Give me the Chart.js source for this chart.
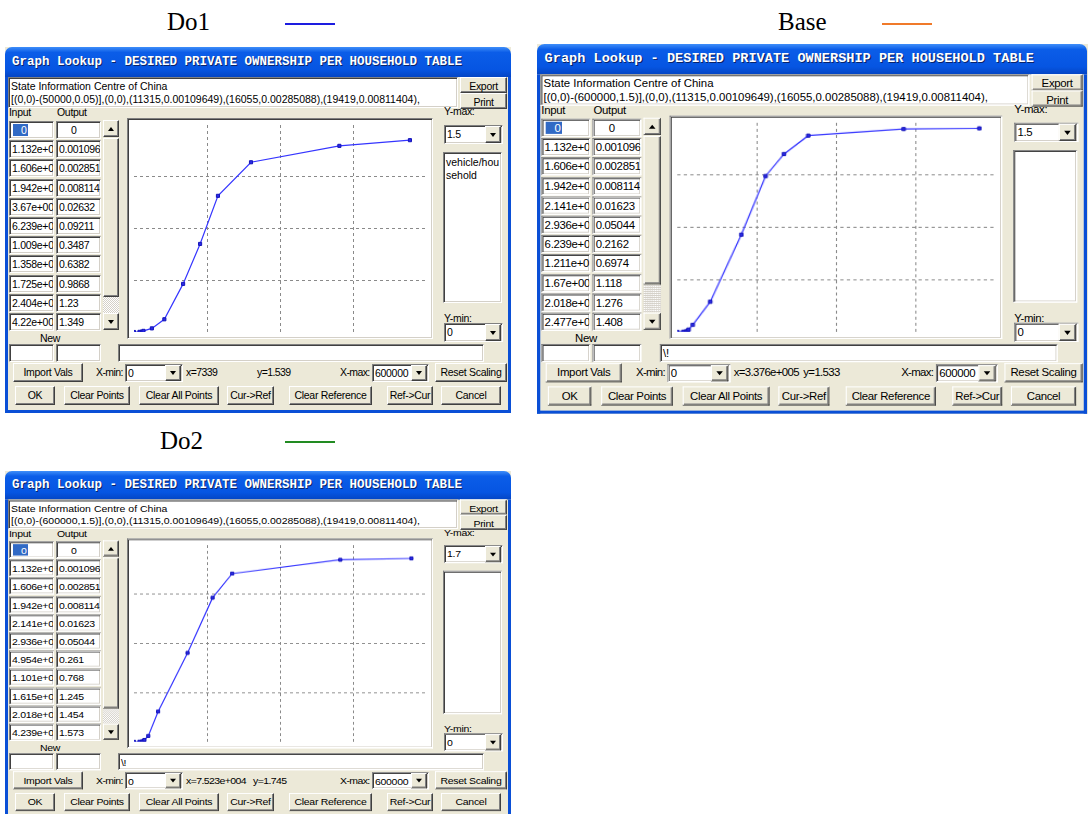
<!DOCTYPE html>
<html>
<head>
<meta charset="utf-8">
<script src="https://cdn.jsdelivr.net/npm/chart.js@4.4.0/dist/chart.umd.min.js"></script>
<style>
body{margin:0;width:1091px;height:814px;overflow:hidden;background:#fff;position:relative;font-family:"Liberation Sans",Arial,sans-serif;}
.lbl{position:absolute;font-family:"Liberation Serif","Times New Roman",serif;font-size:25px;line-height:25px;}
.key{position:absolute;height:2px;width:50px;}
.dlg{position:absolute;width:506px;height:366px;background:#ece9d8;transform-origin:0 0;font-size:10.5px;letter-spacing:-0.3px;color:#000;}
.e{position:absolute;box-sizing:border-box;white-space:nowrap;overflow:hidden;}
.ttl{background:linear-gradient(#3f8ef9,#0b5de8 18%,#0655e2 75%,#0445c4);color:#fff;font:bold 12.5px "Liberation Mono",monospace;letter-spacing:0;line-height:30px;padding-left:7px;text-shadow:1px 1px #0a246a;border-radius:7px 7px 0 0;}
.edge{background:#0a4fd6;}
.field{background:#fff;border:1px solid;border-color:#808080 #fff #fff #808080;box-shadow:inset 1px 1px #404040,inset -1px -1px #d4d0c8;padding:0 2px;line-height:16px;}
.btn{background:#ece9d8;border:1px solid;border-color:#fff #404040 #404040 #fff;box-shadow:inset -1px -1px #808080;text-align:center;line-height:16px;overflow:visible;}
.txt{line-height:13px;overflow:visible;}
.rd{letter-spacing:-0.6px;}
.chk{background:repeating-conic-gradient(#fff 0 25%,#d4d0c8 0 50%) 0 0/2px 2px;}
.tri{position:absolute;left:50%;top:50%;margin-left:-3.5px;margin-top:-2px;width:0;height:0;border-left:3.5px solid transparent;border-right:3.5px solid transparent;}
.dn{border-top:4px solid #000;}
.up{border-bottom:4px solid #000;margin-top:-2px;}
.sel{background:#316ac5;color:#fff;padding:0 1px;}
</style>
</head>
<body>

<div class="lbl" style="left:167px;top:9px;">Do1</div>
<div class="key" style="left:285px;top:23px;background:#1d1de0;"></div>
<div class="lbl" style="left:778px;top:9px;">Base</div>
<div class="key" style="left:882px;top:23px;background:#f07a2a;"></div>
<div class="lbl" style="left:160px;top:428px;">Do2</div>
<div class="key" style="left:285px;top:441px;background:#228b22;"></div>

<script>
var xMax = 600000;

var do1Input = [0, 11315, 16055, 19419, 36700, 62390, 100900, 135800, 172500, 240400, 422000, 567000];
var do1Output = [0, 0.00109649, 0.00285088, 0.00811404, 0.02632, 0.09211, 0.3487, 0.6382, 0.9868, 1.23, 1.349, 1.39];

var baseInput = [0, 11315, 16055, 19419, 21410, 29360, 62390, 121100, 167000, 201800, 247700, 428000, 571000];
var baseOutput = [0, 0.00109649, 0.00285088, 0.00811404, 0.01623, 0.05044, 0.2162, 0.6974, 1.118, 1.276, 1.408, 1.455, 1.46];

var do2Input = [0, 11315, 16055, 19419, 21410, 29360, 49540, 110100, 161500, 201800, 423900, 570000];
var do2Output = [0, 0.00109649, 0.00285088, 0.00811404, 0.01623, 0.05044, 0.261, 0.768, 1.245, 1.454, 1.573, 1.585];

var titleText = "Graph Lookup - DESIRED PRIVATE OWNERSHIP PER HOUSEHOLD TABLE";
var tail = ",(0,0),(11315,0.00109649),(16055,0.00285088),(19419,0.00811404),";

var panels = [
  { left: 5, top: 47, sx: 1, sy: 1, input: do1Input, output: do1Output, yMax: 1.5,
    range: "[(0,0)-(50000,0.05)]", units: "vehicle/household", note: "",
    xRead: "x=7339", yRead: "y=1.539", yReadX: 252, thumb: 159 },
  { left: 537, top: 44, sx: 1.087, sy: 1.01, input: baseInput, output: baseOutput, yMax: 1.5,
    range: "[(0,0)-(600000,1.5)]", units: "", note: "\\!",
    xRead: "x=3.376e+005", yRead: "y=1.533", yReadX: 245, thumb: 147 },
  { left: 5, top: 471, sx: 1, sy: 0.95, input: do2Input, output: do2Output, yMax: 1.7,
    range: "[(0,0)-(600000,1.5)]", units: "", note: "\\!",
    xRead: "x=7.523e+004", yRead: "y=1.745", yReadX: 248, thumb: 159 }
];

// ---- helpers ----
function el(parent, cls, x, y, w, h, text) {
  var d = document.createElement("div");
  d.className = "e " + cls;
  d.style.left = x + "px";
  d.style.top = y + "px";
  if (w != null) d.style.width = w + "px";
  if (h != null) d.style.height = h + "px";
  if (text != null) d.textContent = text;
  parent.appendChild(d);
  return d;
}

function arrow(parent, dir) {
  var t = document.createElement("div");
  t.className = "tri " + dir;
  parent.appendChild(t);
}

function combo(parent, x, y, w, h, text) {
  var c = el(parent, "field", x, y, w, h, text);
  c.style.overflow = "visible";
  var b = el(c, "btn", w - 19, 0, 16, h - 2);
  arrow(b, "dn");
  return c;
}

function fmtIn(v) {
  if (v === 0) return "0";
  var p = v.toExponential(3).split("e");
  var man = p[0].replace(/0+$/, "").replace(/\.$/, "");
  var ex = parseInt(p[1], 10);
  return man + "e" + (ex < 0 ? "-" : "+") + String(Math.abs(ex)).padStart(3, "0");
}

function fmtOut(v) {
  if (v === 0) return "0";
  return String(parseFloat(v.toPrecision(4)));
}

// ---- build one dialog ----
function buildPanel(p) {
  var d = document.createElement("div");
  d.className = "dlg";
  d.style.left = p.left + "px";
  d.style.top = p.top + "px";
  d.style.transform = "scale(" + p.sx + "," + p.sy + ")";
  document.body.appendChild(d);

  el(d, "ttl", 0, 0, 506, 30, titleText);
  el(d, "edge", 0, 30, 3, 336);
  el(d, "edge", 503, 30, 3, 336);
  el(d, "edge", 0, 363, 506, 3);

  var tb = el(d, "field txt", 3, 30, 450, 31);
  tb.style.lineHeight = "13px";
  tb.style.paddingTop = "2px";
  tb.style.overflow = "hidden";
  tb.style.letterSpacing = "0";
  tb.innerHTML = "State Information Centre of China<br>" + p.range + tail;

  el(d, "btn", 455, 30, 47, 16, "Export");
  el(d, "btn", 455, 46, 47, 16, "Print");

  el(d, "txt", 4, 59, 40, 13, "Input");
  el(d, "txt", 52, 59, 40, 13, "Output");

  for (var i = 0; i < 11 && i < p.input.length; i++) {
    var y = 74 + i * 19.2;
    var a = el(d, "field", 4, y, 45, 18);
    var b = el(d, "field", 51, y, 45, 18);
    if (i === 0) {
      a.innerHTML = '<span style="margin-left:1px;padding-left:8px" class="sel">0</span>';
      b.textContent = "0";
      b.style.paddingLeft = "14px";
    } else {
      a.textContent = fmtIn(p.input[i]);
      b.textContent = fmtOut(p.output[i]);
    }
  }

  // scrollbar
  var trackTop = 91 + p.thumb;
  el(d, "chk", 98, trackTop, 16, 266 - trackTop);
  arrow(el(d, "btn", 98, 73, 16, 17), "up");
  el(d, "btn", 98, 91, 16, p.thumb);
  arrow(el(d, "btn", 98, 266, 16, 17), "dn");

  var nw = el(d, "txt", 30, 285, 30, 13, "New");
  nw.style.textAlign = "center";
  el(d, "field", 4, 297, 45, 18);
  el(d, "field", 51, 297, 45, 18);

  // chart box
  var box = el(d, "field", 122, 71, 306, 221);
  box.style.padding = "0";
  var cv = document.createElement("canvas");
  cv.width = 302;
  cv.height = 217;
  cv.style.position = "absolute";
  cv.style.left = "1px";
  cv.style.top = "1px";
  box.appendChild(cv);

  el(d, "field", 113, 297, 366, 18, p.note);

  el(d, "txt", 439, 58, 50, 13, "Y-max:");
  combo(d, 439, 78, 59, 19, String(p.yMax));
  var u = el(d, "field", 438, 105, 59, 151);
  u.style.whiteSpace = "normal";
  u.style.wordBreak = "break-all";
  u.style.lineHeight = "13px";
  u.style.padding = "3px 1px 0 2px";
  u.style.letterSpacing = "0";
  u.textContent = p.units;
  el(d, "txt", 439, 265, 50, 13, "Y-min:");
  combo(d, 439, 276, 59, 19, "0");

  el(d, "btn", 8, 316, 70, 19, "Import Vals");
  el(d, "txt rd", 91, 319, 30, 13, "X-min:");
  combo(d, 120, 317, 58, 18, "0");
  el(d, "txt rd", 181, 319, 70, 13, p.xRead);
  el(d, "txt rd", p.yReadX, 319, 60, 13, p.yRead);
  el(d, "txt rd", 335, 319, 30, 13, "X-max:");
  combo(d, 367, 317, 57, 18, "600000");
  el(d, "btn", 430, 316, 72, 19, "Reset Scaling");

  var bottom = [["OK", 10, 40], ["Clear Points", 59, 66], ["Clear All Points", 134, 80],
                ["Cur->Ref", 222, 47], ["Clear Reference", 284, 83], ["Ref->Cur", 382, 46], ["Cancel", 436, 60]];
  bottom.forEach(function (bt) { el(d, "btn", bt[1], 339, bt[2], 19, bt[0]); });

  return cv;
}

function gridColor(ctx) {
  var v = ctx.tick ? ctx.tick.value : 0;
  var s = ctx.scale;
  if (Math.abs(v - s.min) < 1e-9 || Math.abs(v - s.max) < 1e-9) return "rgba(0,0,0,0)";
  return "#8a8a8a";
}

panels.forEach(function (p) {
  var canvas = buildPanel(p);
  var pts = p.input.map(function (x, i) { return { x: x, y: p.output[i] }; });

  new Chart(canvas, {
    type: "line",
    data: {
      datasets: [
        {
          data: pts,
          borderColor: "#3535ff",
          borderWidth: 1.2,
          pointStyle: "rect",
          pointRadius: 2.2,
          pointBackgroundColor: "#2a2ae6",
          pointBorderColor: "#1414b8",
          pointBorderWidth: 1,
          tension: 0,
        },
      ],
    },
    options: {
      responsive: false,
      animation: false,
      events: [],
      layout: { padding: 0 },
      plugins: {
        legend: { display: false },
        tooltip: { enabled: false },
      },
      scales: {
        x: {
          type: "linear",
          min: 0,
          max: xMax,
          ticks: { display: false, count: 5 },
          grid: { drawTicks: false, color: gridColor },
          border: { display: false, dash: [3, 3] },
        },
        y: {
          type: "linear",
          min: 0,
          max: p.yMax,
          ticks: { display: false, count: 5 },
          grid: { drawTicks: false, color: gridColor },
          border: { display: false, dash: [3, 3] },
        },
      },
    },
  });
});
</script>
</body>
</html>
